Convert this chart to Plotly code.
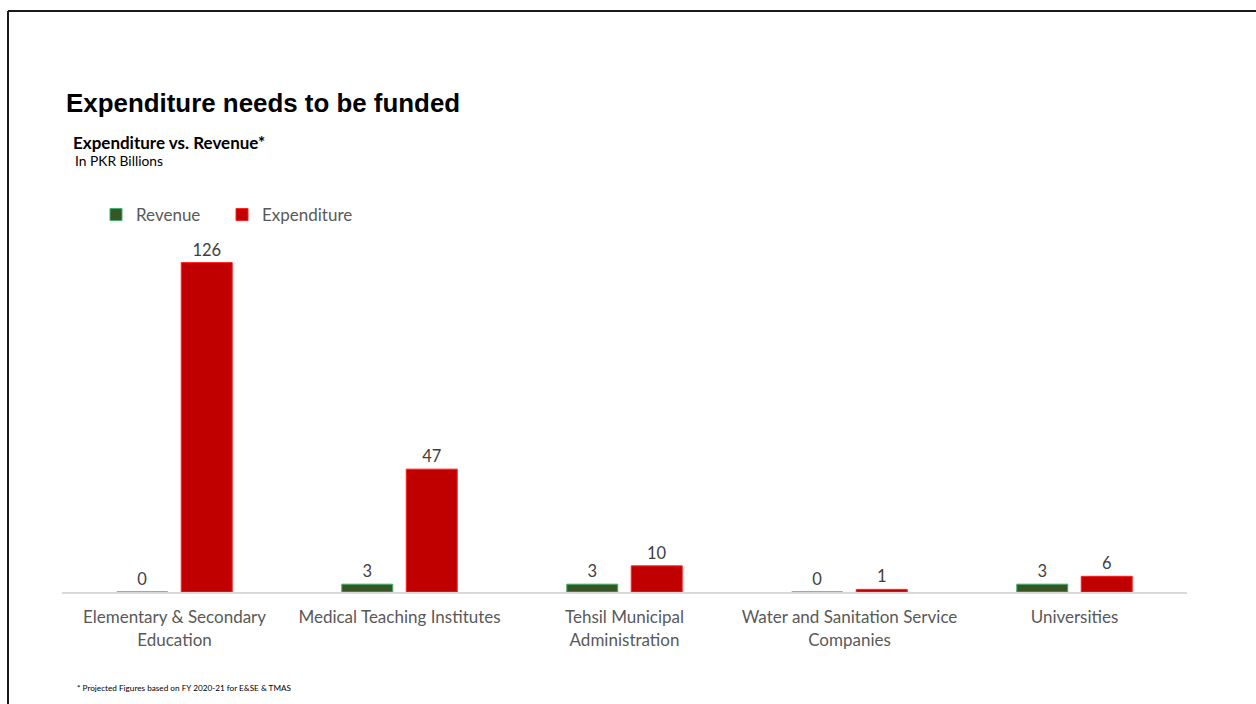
import plotly.graph_objects as go

# Expenditure vs. revenue by entity, PKR billions
categories = [
    "Elementary & Secondary<br>Education",
    "Medical Teaching Institutes",
    "Tehsil Municipal<br>Administration",
    "Water and Sanitation Service<br>Companies",
    "Universities",
]
revenue = [0, 3, 3, 0, 3]
expenditure = [126, 47, 10, 1, 6]

W, H = 1256, 704
ML, MR, MT, MB = 62, 69, 226, 112
PW, PH = W - ML - MR, H - MT - MB


def px_x(p):
    return (p - ML) / PW


def px_y(p):
    return (H - MB - p) / PH


SANS = "Lato, 'Open Sans', sans-serif"
label_font = dict(family=SANS, size=16.5, color="#404040")
legend_font = dict(family=SANS, size=17, color="#595959")

fig = go.Figure()
fig.add_trace(go.Bar(
    name="Revenue", x=categories, y=revenue, legend="legend",
    marker=dict(color="#375623", line=dict(color="#3CB371", width=1)),
    text=revenue, textposition="outside", textfont=label_font,
    cliponaxis=False,
))
fig.add_trace(go.Bar(
    name="Expenditure", x=categories, y=expenditure, legend="legend2",
    marker=dict(color="#C00000", line=dict(color="#FF2020", width=1)),
    text=expenditure, textposition="outside", textfont=label_font,
    cliponaxis=False,
))

fig.update_layout(
    width=W, height=H,
    margin=dict(l=ML, r=MR, t=MT, b=MB),
    paper_bgcolor="white", plot_bgcolor="white",
    barmode="group", bargap=0.427, bargroupgap=0.209,
    showlegend=True,
    legend=dict(
        orientation="h", x=px_x(96), y=px_y(197), xanchor="left", yanchor="top",
        font=legend_font, bgcolor="rgba(0,0,0,0)",
    ),
    legend2=dict(
        orientation="h", x=px_x(222), y=px_y(197), xanchor="left", yanchor="top",
        font=legend_font, bgcolor="rgba(0,0,0,0)",
    ),
    xaxis=dict(
        showgrid=False, showline=True, linecolor="#D9D9D9", linewidth=2,
        ticks="", tickfont=dict(family=SANS, size=17, color="#595959"),
        ticklabelstandoff=9,
    ),
    yaxis=dict(range=[0, 140], visible=False, showgrid=False, zeroline=False),
)

# Frame lines along the top and left
fig.add_shape(type="line", xref="paper", yref="paper",
              x0=px_x(8), x1=px_x(1270), y0=px_y(11), y1=px_y(11),
              line=dict(color="#1a1a1a", width=2))
fig.add_shape(type="line", xref="paper", yref="paper",
              x0=px_x(8), x1=px_x(8), y0=px_y(11), y1=px_y(720),
              line=dict(color="#1a1a1a", width=2))

fig.add_annotation(text="<b>Expenditure needs to be funded</b>", xref="paper", yref="paper",
                   x=px_x(64), y=px_y(103), xanchor="left", yanchor="middle", showarrow=False,
                   font=dict(family="'Liberation Sans', Arial, sans-serif", size=25.9, color="black"))
fig.add_annotation(text="<b>Expenditure vs. Revenue*</b>", xref="paper", yref="paper",
                   x=px_x(71), y=px_y(142), xanchor="left", yanchor="middle", showarrow=False,
                   font=dict(family=SANS, size=17, color="black"))
fig.add_annotation(text="In PKR Billions", xref="paper", yref="paper",
                   x=px_x(73), y=px_y(160), xanchor="left", yanchor="middle", showarrow=False,
                   font=dict(family=SANS, size=13.8, color="black"))
fig.add_annotation(text="* Projected Figures based on FY 2020-21 for E&SE & TMAS", xref="paper", yref="paper",
                   x=px_x(75), y=px_y(688), xanchor="left", yanchor="middle", showarrow=False,
                   font=dict(family=SANS, size=8.2, color="black"))

fig.write_html("out.html")
